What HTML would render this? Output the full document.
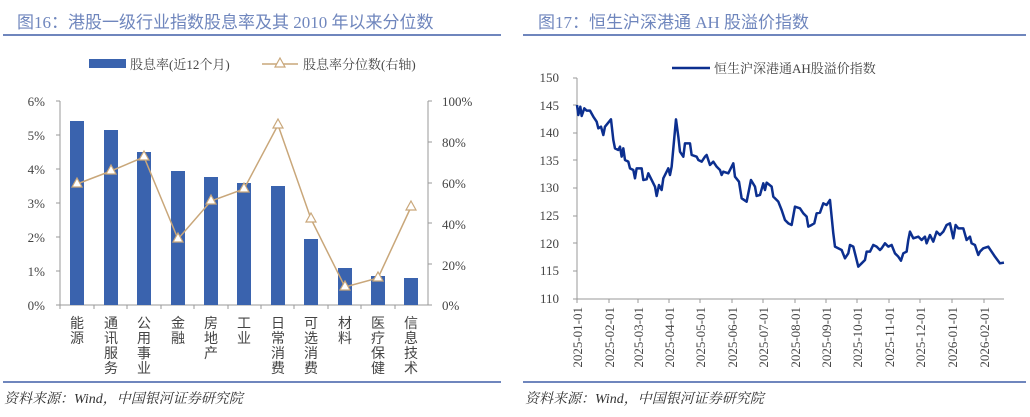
<!DOCTYPE html>
<html><head><meta charset="utf-8"><style>
body{margin:0;background:#fff;width:1030px;height:417px;overflow:hidden}
svg{display:block;font-family:"Liberation Serif","Noto Serif CJK SC","Noto Sans CJK SC",serif}
.t{font-family:"Liberation Serif","Noto Sans CJK SC",sans-serif}
</style></head><body>
<svg width="1030" height="417" viewBox="0 0 1030 417">
<text x="17" y="28" font-size="17" fill="#6f86bd" class="t">图16：港股一级行业指数股息率及其 2010 年以来分位数</text>
<line x1="3" y1="35" x2="501" y2="35" stroke="#6f86bd" stroke-width="2"/>
<text x="538" y="28" font-size="17" fill="#6f86bd" class="t">图17：恒生沪深港通 AH 股溢价指数</text>
<line x1="523" y1="35" x2="1026" y2="35" stroke="#6f86bd" stroke-width="2"/>
<line x1="3" y1="382" x2="501" y2="382" stroke="#6f86bd" stroke-width="2"/>
<line x1="523" y1="382" x2="1026" y2="382" stroke="#6f86bd" stroke-width="2"/>
<text x="4" y="403" font-size="14" font-style="italic" fill="#333">资料来源：Wind，中国银河证券研究院</text>
<text x="525" y="403" font-size="14" font-style="italic" fill="#333">资料来源：Wind，中国银河证券研究院</text>

<rect x="89" y="59" width="37" height="9" fill="#3a63ae"/>
<text x="130" y="69" font-size="13" fill="#444">股息率(近12个月)</text>
<line x1="262" y1="64" x2="298" y2="64" stroke="#c9a77a" stroke-width="1.5"/>
<polygon points="280,58 285,67 275,67" fill="#fff" stroke="#c9a77a" stroke-width="1.2"/>
<text x="303" y="69" font-size="13" fill="#444">股息率分位数(右轴)</text>

<g font-size="13" fill="#444" text-anchor="end">
<text x="45" y="106">6%</text><text x="45" y="140">5%</text><text x="45" y="174">4%</text>
<text x="45" y="208">3%</text><text x="45" y="242">2%</text><text x="45" y="276">1%</text><text x="45" y="310">0%</text>
</g>
<g font-size="13" fill="#444">
<text x="442" y="106">100%</text><text x="442" y="147">80%</text><text x="442" y="188">60%</text>
<text x="442" y="229">40%</text><text x="442" y="270">20%</text><text x="442" y="310">0%</text>
</g>
<g stroke="#999" stroke-width="1">
<line x1="60" y1="101" x2="60" y2="305"/><line x1="56" y1="101" x2="60" y2="101"/>
<line x1="56" y1="135" x2="60" y2="135"/><line x1="56" y1="169" x2="60" y2="169"/>
<line x1="56" y1="203" x2="60" y2="203"/><line x1="56" y1="237" x2="60" y2="237"/>
<line x1="56" y1="271" x2="60" y2="271"/>
<line x1="56" y1="305" x2="432" y2="305"/>
<line x1="428" y1="101" x2="428" y2="305"/>
<line x1="428" y1="101" x2="432" y2="101"/><line x1="428" y1="142" x2="432" y2="142"/>
<line x1="428" y1="183" x2="432" y2="183"/><line x1="428" y1="223" x2="432" y2="223"/>
<line x1="428" y1="264" x2="432" y2="264"/>
<path d="M60 305v4M94 305v4M127 305v4M161 305v4M194 305v4M228 305v4M261 305v4M294 305v4M328 305v4M361 305v4M395 305v4"/>
</g>
<g fill="#3a63ae">
<rect x="70" y="121" width="14" height="184"/>
<rect x="104" y="130" width="14" height="175"/>
<rect x="137" y="152" width="14" height="153"/>
<rect x="171" y="171" width="14" height="134"/>
<rect x="204" y="177" width="14" height="128"/>
<rect x="237" y="183" width="14" height="122"/>
<rect x="271" y="186" width="14" height="119"/>
<rect x="304" y="239" width="14" height="66"/>
<rect x="338" y="268" width="14" height="37"/>
<rect x="371" y="276" width="14" height="29"/>
<rect x="404" y="278" width="14" height="27"/>
</g>
<polyline fill="none" stroke="#c9a77a" stroke-width="1.5" points="77,184 111,171 144,157 178,239 211,201 244,189 278,125 311,219 345,287 378,278 411,207"/>
<g fill="#fff" stroke="#c9a77a" stroke-width="1.2">
<polygon points="77,178 82,187 72,187"/><polygon points="111,165 116,174 106,174"/>
<polygon points="144,151 149,160 139,160"/><polygon points="178,233 183,242 173,242"/>
<polygon points="211,195 216,204 206,204"/><polygon points="244,183 249,192 239,192"/>
<polygon points="278,119 283,128 273,128"/><polygon points="311,213 316,222 306,222"/>
<polygon points="345,281 350,290 340,290"/><polygon points="378,272 383,281 373,281"/>
<polygon points="411,201 416,210 406,210"/>
</g>
<g font-size="14" fill="#444" text-anchor="middle" class="t">
<text x="77" y="328"><tspan x="77">能</tspan><tspan x="77" dy="15">源</tspan></text>
<text x="111" y="328"><tspan x="111">通</tspan><tspan x="111" dy="15">讯</tspan><tspan x="111" dy="15">服</tspan><tspan x="111" dy="15">务</tspan></text>
<text x="144" y="328"><tspan x="144">公</tspan><tspan x="144" dy="15">用</tspan><tspan x="144" dy="15">事</tspan><tspan x="144" dy="15">业</tspan></text>
<text x="178" y="328"><tspan x="178">金</tspan><tspan x="178" dy="15">融</tspan></text>
<text x="211" y="328"><tspan x="211">房</tspan><tspan x="211" dy="15">地</tspan><tspan x="211" dy="15">产</tspan></text>
<text x="244" y="328"><tspan x="244">工</tspan><tspan x="244" dy="15">业</tspan></text>
<text x="278" y="328"><tspan x="278">日</tspan><tspan x="278" dy="15">常</tspan><tspan x="278" dy="15">消</tspan><tspan x="278" dy="15">费</tspan></text>
<text x="311" y="328"><tspan x="311">可</tspan><tspan x="311" dy="15">选</tspan><tspan x="311" dy="15">消</tspan><tspan x="311" dy="15">费</tspan></text>
<text x="345" y="328"><tspan x="345">材</tspan><tspan x="345" dy="15">料</tspan></text>
<text x="378" y="328"><tspan x="378">医</tspan><tspan x="378" dy="15">疗</tspan><tspan x="378" dy="15">保</tspan><tspan x="378" dy="15">健</tspan></text>
<text x="411" y="328"><tspan x="411">信</tspan><tspan x="411" dy="15">息</tspan><tspan x="411" dy="15">技</tspan><tspan x="411" dy="15">术</tspan></text>
</g>

<line x1="672" y1="68" x2="710" y2="68" stroke="#0c2f8f" stroke-width="2.5"/>
<text x="714" y="73" font-size="13" fill="#444">恒生沪深港通AH股溢价指数</text>
<g font-size="13" fill="#444" text-anchor="end">
<text x="559" y="82">150</text><text x="559" y="110">145</text><text x="559" y="137">140</text>
<text x="559" y="165">135</text><text x="559" y="192">130</text><text x="559" y="220">125</text>
<text x="559" y="248">120</text><text x="559" y="275">115</text><text x="559" y="303">110</text>
</g>
<g stroke="#999" stroke-width="1">
<line x1="577" y1="78" x2="577" y2="299"/>
<line x1="573" y1="78" x2="577" y2="78"/><line x1="573" y1="105" x2="577" y2="105"/>
<line x1="573" y1="133" x2="577" y2="133"/><line x1="573" y1="160" x2="577" y2="160"/>
<line x1="573" y1="188" x2="577" y2="188"/><line x1="573" y1="216" x2="577" y2="216"/>
<line x1="573" y1="243" x2="577" y2="243"/><line x1="573" y1="271" x2="577" y2="271"/>
<line x1="573" y1="299" x2="1004" y2="299"/>
<path d="M577 299v4M609 299v4M638 299v4M669 299v4M700 299v4M732 299v4M763 299v4M795 299v4M826 299v4M857 299v4M889 299v4M920 299v4M952 299v4M984 299v4"/>
</g>
<g transform="translate(515,90) scale(0.3333)">
<polyline fill="none" stroke="#0c2f8f" stroke-width="7.5" stroke-linejoin="round" points="186,45 190,75 196,50 200,78 208,55 215,62 225,62 235,80 245,95 250,115 258,110 265,135 270,110 288,88 295,150 300,175 310,180 315,170 320,200 325,175 330,210 340,215 345,235 355,240 360,265 365,235 380,235 385,270 395,268 400,250 410,270 420,290 425,318 432,285 440,300 445,265 460,235 465,255 470,230 483,88 490,140 495,185 505,200 510,160 525,160 530,195 545,200 550,210 560,215 570,200 575,195 585,225 595,215 605,230 615,240 620,255 625,245 640,250 655,220 660,260 672,275 680,325 695,335 708,270 720,290 725,318 735,315 745,280 750,300 755,278 770,290 775,320 790,335 800,360 810,390 820,400 830,405 840,350 855,355 865,370 875,380 880,410 890,405 898,400 905,370 915,368 925,340 935,345 945,330 955,430 960,470 980,480 990,505 1000,490 1005,465 1015,470 1020,490 1030,530 1040,520 1050,510 1055,485 1065,485 1075,465 1085,470 1095,480 1100,475 1110,460 1120,470 1130,465 1140,490 1150,500 1158,512 1165,490 1175,485 1180,450 1185,425 1195,445 1210,440 1220,450 1230,440 1235,460 1245,435 1255,455 1265,425 1275,435 1285,425 1295,405 1305,400 1315,445 1322,405 1330,415 1345,415 1355,450 1365,440 1370,460 1380,465 1390,495 1395,485 1405,475 1420,470 1430,485 1440,500 1455,520 1467,518"/>
</g>
<g font-size="13" fill="#444" text-anchor="end">
<text transform="translate(582,307) rotate(-90)">2025-01-01</text>
<text transform="translate(614,307) rotate(-90)">2025-02-01</text>
<text transform="translate(643,307) rotate(-90)">2025-03-01</text>
<text transform="translate(674,307) rotate(-90)">2025-04-01</text>
<text transform="translate(705,307) rotate(-90)">2025-05-01</text>
<text transform="translate(737,307) rotate(-90)">2025-06-01</text>
<text transform="translate(768,307) rotate(-90)">2025-07-01</text>
<text transform="translate(800,307) rotate(-90)">2025-08-01</text>
<text transform="translate(831,307) rotate(-90)">2025-09-01</text>
<text transform="translate(862,307) rotate(-90)">2025-10-01</text>
<text transform="translate(894,307) rotate(-90)">2025-11-01</text>
<text transform="translate(925,307) rotate(-90)">2025-12-01</text>
<text transform="translate(957,307) rotate(-90)">2026-01-01</text>
<text transform="translate(989,307) rotate(-90)">2026-02-01</text>
</g>
</svg>
</body></html>
